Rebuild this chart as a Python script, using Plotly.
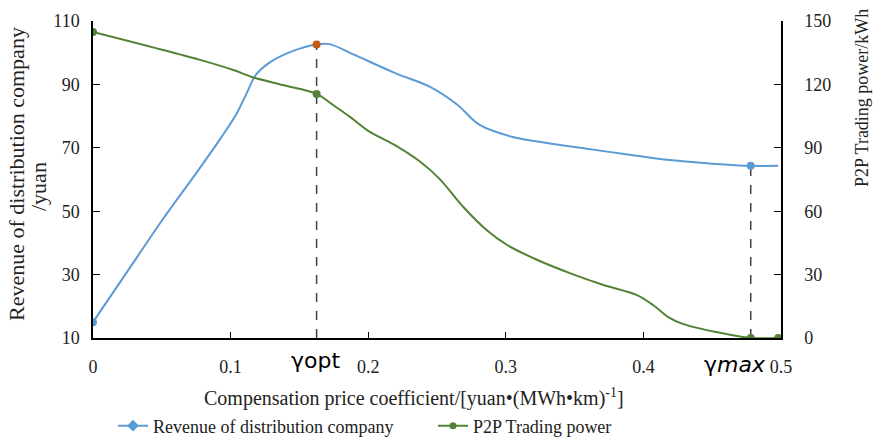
import plotly.graph_objects as go

# ---- data ----
rev_x = [0, 0.025, 0.05, 0.075, 0.092, 0.104, 0.112, 0.118, 0.128, 0.145, 0.1625, 0.172,
         0.19, 0.22, 0.245, 0.265, 0.281, 0.305, 0.33, 0.354, 0.39, 0.417, 0.45,
         0.478, 0.498]
rev_y = [15, 31, 47, 62, 72.5, 80.5, 87.5, 92.8, 96.8, 100.5, 102.6, 102.7,
         99.3, 93.5, 89.2, 83.5, 77.2, 73.4, 71.5, 70, 67.8, 66.2, 65,
         64.3, 64.3]

p2p_x = [0, 0.0778, 0.102, 0.116, 0.138, 0.1625, 0.175, 0.187, 0.2, 0.22, 0.2376,
         0.252, 0.269, 0.286, 0.301, 0.323, 0.347, 0.371, 0.395, 0.407, 0.419, 0.428,
         0.453, 0.478, 0.498]
p2p_y = [144.8, 131.6, 126.8, 123.4, 119.7, 115.5, 110, 104.5, 98, 91, 83.5,
         75.2, 62.1, 51.1, 44.0, 36.9, 30.6, 25.1, 20.4, 15.6, 9.5, 6.8,
         2.8, 0, 0]

gamma_opt = 0.1625
gamma_max = 0.478
rev_opt = 102.6
rev_max = 64.3
p2p_opt = 115.5
p2p_end_x = 0.498

rev_marker_x = [0, gamma_max]
rev_marker_y = [15, rev_max]
p2p_marker_x = [0, gamma_opt, gamma_max, p2p_end_x]
p2p_marker_y = [144.8, p2p_opt, 0, 0]

x_ticks = [0, 0.1, 0.2, 0.3, 0.4, 0.5]
x_tick_text = ["0", "0.1", "0.2", "0.3", "0.4", "0.5"]
y_ticks = [10, 30, 50, 70, 90, 110]
y2_ticks = [0, 30, 60, 90, 120, 150]

BLUE = "#5B9BD5"
GREEN = "#548235"
ORANGE = "#C55A11"
DASH = "#404040"
FONT = "Liberation Serif"
TXT = "#222222"

W, H = 873, 441

fig = go.Figure()

# dashed guide lines
fig.add_trace(go.Scatter(x=[gamma_opt, gamma_opt], y=[10, rev_opt], mode="lines",
                         line=dict(color=DASH, width=1.5, dash="dash"),
                         showlegend=False, hoverinfo="skip"))
fig.add_trace(go.Scatter(x=[gamma_max, gamma_max], y=[10, rev_max], mode="lines",
                         line=dict(color=DASH, width=1.5, dash="dash"),
                         showlegend=False, hoverinfo="skip"))

# curves
fig.add_trace(go.Scatter(x=rev_x, y=rev_y, mode="lines",
                         line=dict(color=BLUE, width=2, shape="spline", smoothing=0.9),
                         showlegend=False))
fig.add_trace(go.Scatter(x=p2p_x, y=p2p_y, mode="lines", yaxis="y2",
                         line=dict(color=GREEN, width=2, shape="spline", smoothing=0.9),
                         showlegend=False))

# markers
fig.add_trace(go.Scatter(x=rev_marker_x, y=rev_marker_y, mode="markers",
                         marker=dict(color=BLUE, size=8), showlegend=False))
fig.add_trace(go.Scatter(x=[gamma_opt], y=[rev_opt], mode="markers",
                         marker=dict(color=ORANGE, size=8), showlegend=False))
fig.add_trace(go.Scatter(x=p2p_marker_x, y=p2p_marker_y, mode="markers", yaxis="y2",
                         marker=dict(color=GREEN, size=8), showlegend=False))

# legend entries
fig.add_trace(go.Scatter(x=[None], y=[None], mode="lines+markers",
                         name="Revenue of distribution company", legend="legend",
                         line=dict(color=BLUE, width=2),
                         marker=dict(color=BLUE, size=9, symbol="diamond")))
fig.add_trace(go.Scatter(x=[None], y=[None], mode="lines+markers",
                         name="P2P Trading power", legend="legend2",
                         line=dict(color=GREEN, width=2),
                         marker=dict(color=GREEN, size=7, symbol="circle")))

axis_font = dict(family=FONT, size=18, color=TXT)


def px_x(p):
    return (p - 93) / 688.0


def px_y(p):
    return (338 - p) / 317.0


common_axis = dict(showgrid=False, zeroline=False, showline=True, linecolor="black",
                   linewidth=1.5, ticks="inside", tickcolor="black", tickfont=axis_font,
                   automargin=False)

legend_common = dict(orientation="h", xanchor="left", yanchor="middle",
                     xref="container", yref="container",
                     font=dict(family=FONT, size=18, color=TXT),
                     bgcolor="rgba(0,0,0,0)")

fig.update_layout(
    width=W, height=H,
    margin=dict(l=93, r=92, t=21, b=103),
    paper_bgcolor="white", plot_bgcolor="white",
    font=dict(family=FONT, size=18, color=TXT),
    xaxis=dict(range=[0, 0.5], tickvals=x_ticks, ticktext=x_tick_text, ticklen=6,
               ticklabelstandoff=12, **common_axis),
    yaxis=dict(range=[10, 110], tickvals=y_ticks, ticklen=7, ticklabelstandoff=8,
               **common_axis),
    yaxis2=dict(range=[0, 150], tickvals=y2_ticks, overlaying="y", side="right",
                ticklen=7, ticklabelstandoff=18, **common_axis),
    legend=dict(x=113 / W, y=1 - 426 / H, **legend_common),
    legend2=dict(x=433 / W, y=1 - 426 / H, **legend_common),
    showlegend=True,
)

ann_common = dict(xref="paper", yref="paper", showarrow=False,
                  xanchor="center", yanchor="middle")
annotations = [
    dict(text="Revenue of distribution company", x=px_x(16), y=px_y(174),
         textangle=-90, font=dict(family=FONT, size=22, color=TXT), **ann_common),
    dict(text="/yuan", x=px_x(38), y=px_y(187),
         textangle=-90, font=dict(family=FONT, size=22, color=TXT), **ann_common),
    dict(text="P2P Trading power/kWh", x=px_x(862), y=px_y(98),
         textangle=-90, font=dict(family=FONT, size=18, color=TXT), **ann_common),
    dict(text="Compensation price coefficient/[yuan•(MWh•km)<sup>-1</sup>]",
         x=px_x(414), y=px_y(397), font=dict(family=FONT, size=20, color=TXT),
         **ann_common),
    dict(text="γopt", x=px_x(315), y=px_y(360),
         font=dict(family="DejaVu Sans", size=22, color="black"), **ann_common),
    dict(text="γ<i>max</i>", x=px_x(735), y=px_y(364),
         font=dict(family="DejaVu Sans", size=22, color="black"), **ann_common),
]
fig.update_layout(annotations=annotations)

fig.write_html("out.html", config={"displayModeBar": False},
               post_script="document.body.style.margin='0px';")
